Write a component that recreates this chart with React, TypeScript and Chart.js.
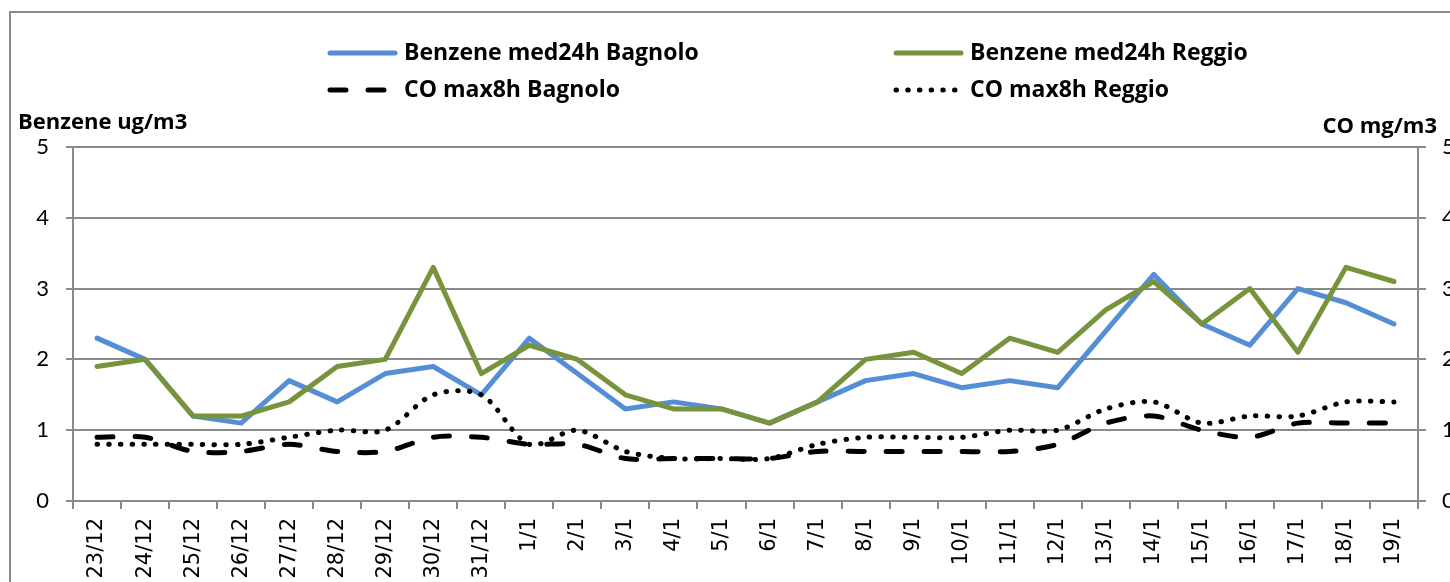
import React, { useEffect, useRef } from "react";
import { Chart, registerables } from "chart.js";

Chart.register(...registerables);

const categories = [
  "23/12", "24/12", "25/12", "26/12", "27/12", "28/12", "29/12", "30/12", "31/12",
  "1/1", "2/1", "3/1", "4/1", "5/1", "6/1", "7/1", "8/1", "9/1", "10/1",
  "11/1", "12/1", "13/1", "14/1", "15/1", "16/1", "17/1", "18/1", "19/1",
];

const benzeneBagnolo = [
  2.3, 2.0, 1.2, 1.1, 1.7, 1.4, 1.8, 1.9, 1.5,
  2.3, 1.8, 1.3, 1.4, 1.3, 1.1, 1.4, 1.7, 1.8, 1.6,
  1.7, 1.6, 2.4, 3.2, 2.5, 2.2, 3.0, 2.8, 2.5,
];

const benzeneReggio = [
  1.9, 2.0, 1.2, 1.2, 1.4, 1.9, 2.0, 3.3, 1.8,
  2.2, 2.0, 1.5, 1.3, 1.3, 1.1, 1.4, 2.0, 2.1, 1.8,
  2.3, 2.1, 2.7, 3.1, 2.5, 3.0, 2.1, 3.3, 3.1,
];

const coBagnolo = [
  0.9, 0.9, 0.7, 0.7, 0.8, 0.7, 0.7, 0.9, 0.9,
  0.8, 0.8, 0.6, 0.6, 0.6, 0.6, 0.7, 0.7, 0.7, 0.7,
  0.7, 0.8, 1.1, 1.2, 1.0, 0.9, 1.1, 1.1, 1.1,
];

const coReggio = [
  0.8, 0.8, 0.8, 0.8, 0.9, 1.0, 1.0, 1.5, 1.5,
  0.8, 1.0, 0.7, 0.6, 0.6, 0.6, 0.8, 0.9, 0.9, 0.9,
  1.0, 1.0, 1.3, 1.4, 1.1, 1.2, 1.2, 1.4, 1.4,
];

const seriesLabels = [
  "Benzene med24h Bagnolo",
  "Benzene med24h Reggio",
  "CO max8h Bagnolo",
  "CO max8h Reggio",
];

const axisMin = 0;
const axisMax = 5;
const axisStep = 1;
const leftAxisTitle = "Benzene ug/m3";
const rightAxisTitle = "CO mg/m3";

const CANVAS_W = 1490;
const CANVAS_H = 650;
const GRID = "#8a8a8a";

const frameAndTextPlugin = {
  id: "frameAndText",
  beforeDraw(chart: any) {
    const ctx = chart.ctx;
    ctx.save();
    ctx.strokeStyle = GRID;
    ctx.lineWidth = 2;
    ctx.beginPath();
    ctx.moveTo(10, CANVAS_H);
    ctx.lineTo(10, 12);
    ctx.lineTo(CANVAS_W, 12);
    ctx.stroke();
    ctx.restore();
  },
  afterDraw(chart: any) {
    const ctx = chart.ctx;
    const area = chart.chartArea;
    ctx.save();
    // legend
    const slots = [
      [327, 53],
      [893, 53],
      [327, 90],
      [893, 90],
    ];
    chart.data.datasets.forEach((ds: any, i: number) => {
      const [x, y] = slots[i];
      ctx.strokeStyle = ds.borderColor;
      ctx.lineWidth = ds.borderWidth;
      ctx.lineCap = ds.borderCapStyle || "butt";
      ctx.setLineDash(ds.borderDash || []);
      ctx.beginPath();
      ctx.moveTo(x + 3, y);
      ctx.lineTo(x + 68, y);
      ctx.stroke();
      ctx.setLineDash([]);
      ctx.fillStyle = "#000";
      ctx.font = "bold 23px 'Open Sans'";
      ctx.textBaseline = "middle";
      ctx.textAlign = "left";
      ctx.fillText(ds.label, x + 77, y);
    });
    // axis titles
    ctx.fillStyle = "#000";
    ctx.font = "bold 22px 'Open Sans'";
    ctx.textBaseline = "alphabetic";
    ctx.textAlign = "left";
    ctx.fillText(leftAxisTitle, area.left - 55, area.top - 18);
    ctx.textAlign = "right";
    ctx.fillText(rightAxisTitle, area.right + 19, area.top - 14);
    ctx.restore();
  },
};

export default function App() {
  const canvasRef = useRef<HTMLCanvasElement | null>(null);

  useEffect(() => {
    if (!canvasRef.current) return;
    const chart = new Chart(canvasRef.current, {
      type: "line",
      data: {
        labels: categories,
        datasets: [
          {
            label: seriesLabels[0],
            data: benzeneBagnolo,
            borderColor: "#558ED5",
            borderWidth: 5,
            borderCapStyle: "round",
            borderJoinStyle: "round",
            pointRadius: 0,
            tension: 0,
            yAxisID: "y",
            order: 4,
          },
          {
            label: seriesLabels[1],
            data: benzeneReggio,
            borderColor: "#77933C",
            borderWidth: 5,
            borderCapStyle: "round",
            borderJoinStyle: "round",
            pointRadius: 0,
            tension: 0,
            yAxisID: "y",
            order: 3,
          },
          {
            label: seriesLabels[2],
            data: coBagnolo,
            borderColor: "#000000",
            borderWidth: 5,
            borderDash: [16, 22],
            borderCapStyle: "round",
            pointRadius: 0,
            tension: 0.3,
            yAxisID: "y1",
            order: 2,
          },
          {
            label: seriesLabels[3],
            data: coReggio,
            borderColor: "#000000",
            borderWidth: 5,
            borderDash: [0.5, 11.2],
            borderCapStyle: "round",
            pointRadius: 0,
            tension: 0.3,
            yAxisID: "y1",
            order: 1,
          },
        ],
      } as any,
      options: {
        responsive: false,
        animation: false,
        events: [],
        layout: {
          padding: { left: 0, top: 147, right: CANVAS_W - 1418 - 40, bottom: 0 },
        },
        plugins: {
          legend: { display: false },
          tooltip: { enabled: false },
          title: { display: false },
        },
        scales: {
          x: {
            type: "category",
            offset: true,
            afterFit: (s: any) => {
              s.height = CANVAS_H - 501;
            },
            grid: {
              offset: true,
              drawOnChartArea: false,
              drawTicks: true,
              tickLength: 8,
              color: GRID,
              lineWidth: 2,
            },
            border: { display: true, color: GRID, width: 2 },
            ticks: {
              autoSkip: false,
              minRotation: 90,
              maxRotation: 90,
              padding: 9,
              color: "#000",
              font: { family: "DejaVu Sans", size: 21 },
            },
          },
          y: {
            type: "linear",
            position: "left",
            min: axisMin,
            max: axisMax,
            afterFit: (s: any) => {
              s.width = 73;
            },
            grid: {
              drawOnChartArea: true,
              drawTicks: true,
              tickLength: 7,
              color: GRID,
              lineWidth: 2,
            },
            border: { display: true, color: GRID, width: 2 },
            ticks: {
              stepSize: axisStep,
              padding: 17,
              color: "#000",
              font: { family: "Lato", size: 22 },
            },
          },
          y1: {
            type: "linear",
            position: "right",
            min: axisMin,
            max: axisMax,
            afterFit: (s: any) => {
              s.width = 40;
            },
            grid: {
              drawOnChartArea: false,
              drawTicks: true,
              tickLength: 8,
              color: GRID,
              lineWidth: 2,
            },
            border: { display: true, color: GRID, width: 2 },
            ticks: {
              stepSize: axisStep,
              padding: 16,
              color: "#000",
              font: { family: "Lato", size: 22 },
            },
          },
        },
      } as any,
      plugins: [frameAndTextPlugin],
    });
    return () => chart.destroy();
  }, []);

  return (
    <div
      style={{
        position: "absolute",
        left: 0,
        top: 0,
        width: 1450,
        height: 582,
        overflow: "hidden",
        background: "#fff",
      }}
    >
      <canvas
        ref={canvasRef}
        width={CANVAS_W}
        height={CANVAS_H}
        style={{ display: "block", width: CANVAS_W, height: CANVAS_H }}
      />
    </div>
  );
}
